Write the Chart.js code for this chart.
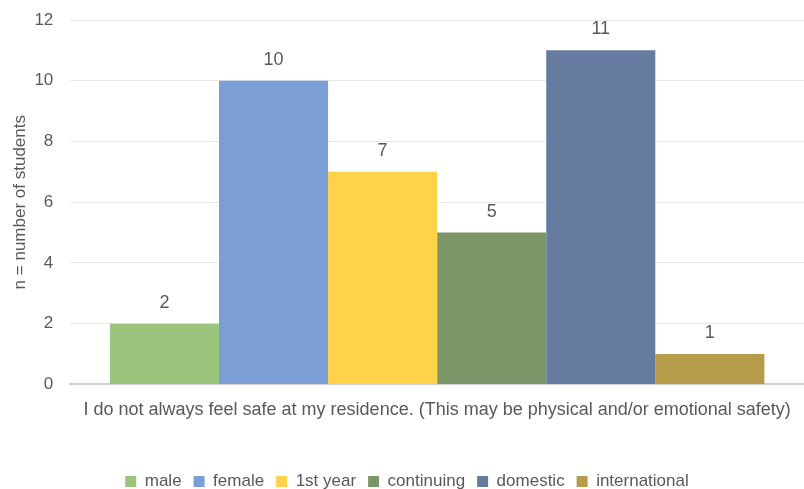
<!DOCTYPE html>
<html>
<head>
<meta charset="utf-8">
<script src="https://cdn.jsdelivr.net/npm/chart.js@4"></script>
<style>
  html, body { margin: 0; padding: 0; background: #fff; }
  #wrap { width: 804px; height: 489px; }
</style>
</head>
<body>
<div id="wrap"><canvas id="c" width="804" height="489"></canvas></div>
<script>
const categories = ['I do not always feel safe at my residence. (This may be physical and/or emotional safety)'];
const seriesNames = ['male', 'female', '1st year', 'continuing', 'domestic', 'international'];
const seriesValues = [[2], [10], [7], [5], [11], [1]];
const seriesColors = ['#9BC47C', '#7B9ED6', '#FFD24A', '#7A9668', '#657BA0', '#B59B4A'];
const yTicks = [0, 2, 4, 6, 8, 10, 12];

const textColor = '#595959';
const fontFamily = '"Liberation Sans", Arial, sans-serif';

// Writes each bar's value just above it
const valueLabels = {
  id: 'valueLabels',
  afterDatasetsDraw(chart) {
    const ctx = chart.ctx;
    ctx.save();
    ctx.fillStyle = textColor;
    ctx.font = '18px ' + fontFamily;
    ctx.textAlign = 'center';
    ctx.textBaseline = 'middle';
    chart.data.datasets.forEach((ds, i) => {
      const meta = chart.getDatasetMeta(i);
      meta.data.forEach((bar, j) => {
        ctx.fillText(String(ds.data[j]), bar.x, bar.y - 21);
      });
    });
    ctx.restore();
  }
};

new Chart(document.getElementById('c'), {
  type: 'bar',
  data: {
    labels: categories,
    datasets: seriesNames.map((name, i) => ({
      label: name,
      data: seriesValues[i],
      backgroundColor: seriesColors[i],
      borderWidth: 0,
      barPercentage: 1.0,
      categoryPercentage: 0.892
    }))
  },
  options: {
    responsive: false,
    animation: false,
    layout: { padding: { left: 10, right: 0, top: 0, bottom: -11 } },
    plugins: {
      tooltip: { enabled: false },
      legend: {
        position: 'bottom',
        labels: {
          color: textColor,
          font: { family: fontFamily, size: 17 },
          boxWidth: 11,
          boxHeight: 11,
          padding: 12
        }
      }
    },
    scales: {
      x: {
        grid: { display: false, drawTicks: false },
        border: { display: true, color: '#D0D0D0', width: 2 },
        ticks: {
          color: textColor,
          font: { family: fontFamily, size: 18 },
          padding: 15,
          maxRotation: 0,
          autoSkip: false
        },
        afterFit(scale) {
          // the long category label may spill past the plot edges
          scale.paddingLeft = 0;
          scale.paddingRight = 0;
          scale.height += 25;
        }
      },
      y: {
        min: 0,
        max: 12,
        afterBuildTicks(axis) { axis.ticks = yTicks.map(v => ({ value: v })); },
        grid: { color: '#E8E8E8', lineWidth: 1, drawTicks: false },
        border: { display: false },
        ticks: {
          color: textColor,
          font: { family: fontFamily, size: 17 },
          padding: 17
        },
        title: {
          display: true,
          text: 'n = number of students',
          color: textColor,
          font: { family: fontFamily, size: 17 },
          padding: { top: 0, bottom: 4 }
        },
        afterFit(scale) {
          scale.width -= 17;
          scale.paddingTop = 20;
        }
      }
    }
  },
  plugins: [valueLabels]
});
</script>
</body>
</html>
